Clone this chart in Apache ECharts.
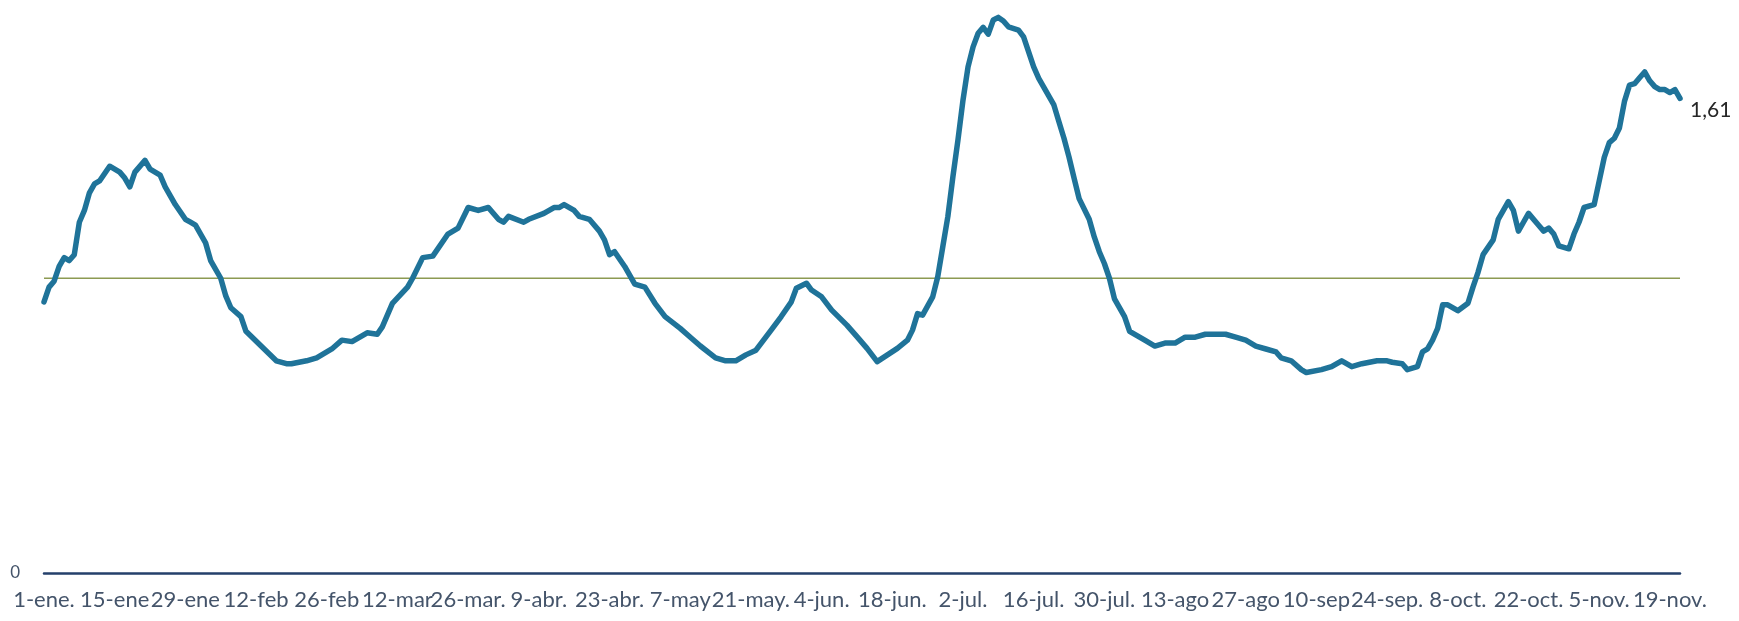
<!DOCTYPE html>
<html>
<head>
<meta charset="utf-8">
<script src="https://cdn.jsdelivr.net/npm/echarts@6/dist/echarts.min.js"></script>
<style>
  html, body { margin: 0; padding: 0; background: #ffffff; }
  #chart { width: 1739px; height: 621px; }
</style>
</head>
<body>
<div id="chart"></div>
<script>
// Day offsets from 1 January
const days = [0,1,2,3,4,5,6,7,8,9,10,11,13,15,16,17,18,20,21,23,24,26,28,29,30,32,33,35,36,37,39,40,43,46,48,49,52,54,57,59,61,64,66,67,69,72,73,75,77,80,82,84,86,88,90,91,92,95,96,99,101,102,103,105,106,108,110,111,112,113,115,117,119,121,123,126,128,130,133,135,137,139,141,144,146,148,149,151,152,154,156,159,161,163,165,169,171,172,173,174,176,177,178,179,180,181,182,183,184,185,186,187,188,189,190,191,193,194,195,196,197,200,201,202,203,204,205,207,208,209,210,211,212,214,215,218,220,222,224,226,228,230,232,234,236,238,240,242,244,245,247,249,250,253,255,257,259,261,264,266,267,269,270,272,273,274,275,276,277,278,280,282,283,284,285,287,288,290,291,292,293,294,296,297,298,299,300,302,303,304,305,307,308,309,310,311,312,313,314,315,316,317,318,319,320,321,322,323,324];
// Series values
const values = [0.92,0.97,0.99,1.04,1.07,1.06,1.08,1.19,1.23,1.29,1.32,1.33,1.38,1.36,1.34,1.31,1.36,1.40,1.37,1.35,1.31,1.25,1.20,1.19,1.18,1.12,1.06,1.00,0.94,0.90,0.87,0.82,0.77,0.72,0.71,0.71,0.72,0.73,0.76,0.79,0.785,0.815,0.81,0.835,0.915,0.97,1.00,1.07,1.075,1.15,1.17,1.24,1.23,1.24,1.20,1.19,1.21,1.19,1.20,1.22,1.24,1.24,1.25,1.23,1.21,1.20,1.16,1.13,1.08,1.09,1.04,0.98,0.97,0.915,0.87,0.83,0.80,0.77,0.73,0.72,0.72,0.74,0.756,0.824,0.87,0.92,0.966,0.983,0.96,0.937,0.892,0.841,0.802,0.762,0.717,0.762,0.79,0.824,0.88,0.875,0.937,1.005,1.107,1.209,1.344,1.469,1.604,1.717,1.785,1.831,1.851,1.828,1.876,1.885,1.873,1.853,1.842,1.819,1.768,1.717,1.678,1.588,1.531,1.475,1.411,1.34,1.27,1.20,1.14,1.09,1.05,1.00,0.93,0.87,0.82,0.79,0.77,0.78,0.78,0.80,0.80,0.81,0.81,0.81,0.80,0.79,0.77,0.76,0.75,0.73,0.72,0.69,0.68,0.69,0.70,0.72,0.70,0.71,0.72,0.72,0.715,0.71,0.69,0.70,0.75,0.76,0.79,0.83,0.91,0.91,0.89,0.915,0.97,1.02,1.08,1.13,1.20,1.26,1.23,1.16,1.19,1.22,1.18,1.16,1.17,1.15,1.11,1.10,1.15,1.19,1.24,1.25,1.33,1.41,1.46,1.475,1.51,1.60,1.655,1.66,1.68,1.70,1.67,1.65,1.64,1.64,1.63,1.64,1.61];
// Tick labels every 14 days
const tickLabels = ["1-ene.","15-ene","29-ene","12-feb","26-feb","12-mar","26-mar.","9-abr.","23-abr.","7-may","21-may.","4-jun.","18-jun.","2-jul.","16-jul.","30-jul.","13-ago","27-ago","10-sep","24-sep.","8-oct.","22-oct.","5-nov.","19-nov."];
// Reference level
const refDays = [0, 324];
const refValue = 1;

const lineData = days.map((d, i) => [d, values[i]]);
const refData = refDays.map(d => [d, refValue]);

const chart = echarts.init(document.getElementById('chart'), null, { renderer: 'canvas' });
chart.setOption({
  animation: false,
  backgroundColor: '#ffffff',
  grid: { left: 44, right: 59, top: 0, bottom: 48, containLabel: false },
  xAxis: {
    type: 'value',
    min: 0,
    max: 324,
    interval: 14,
    axisLine: { show: true, lineStyle: { color: '#25406b', width: 2.5 } },
    axisTick: { show: false },
    splitLine: { show: false },
    axisLabel: {
      show: true,
      margin: 16,
      color: '#44546A',
      fontFamily: 'Lato',
      fontSize: 22,
      showMinLabel: true,
      showMaxLabel: true,
      formatter: function (v) {
        if (v % 14 !== 0) return '';
        return tickLabels[v / 14] || '';
      }
    }
  },
  yAxis: {
    type: 'value',
    min: 0,
    max: 1.944,
    axisLine: { show: false },
    axisTick: { show: false },
    splitLine: { show: false },
    axisLabel: {
      margin: 24,
      color: '#44546A',
      fontFamily: 'Lato',
      fontSize: 17,
      formatter: function (v) { return v === 0 ? '0' : ''; }
    }
  },
  series: [
    {
      name: 'Referencia',
      type: 'line',
      data: refData,
      symbol: 'none',
      silent: true,
      lineStyle: { color: '#8c9a52', width: 1.3 },
      z: 1
    },
    {
      name: 'Serie',
      type: 'line',
      data: lineData,
      symbol: 'none',
      smooth: false,
      lineStyle: { color: '#1f7399', width: 5.5, cap: 'round', join: 'round' },
      z: 3,
      endLabel: {
        show: true,
        distance: 10,
        offset: [0, 12],
        color: '#262626',
        fontFamily: 'Lato',
        fontSize: 21,
        formatter: function (p) { return p.value[1].toFixed(2).replace('.', ','); }
      }
    }
  ]
});
</script>
</body>
</html>
